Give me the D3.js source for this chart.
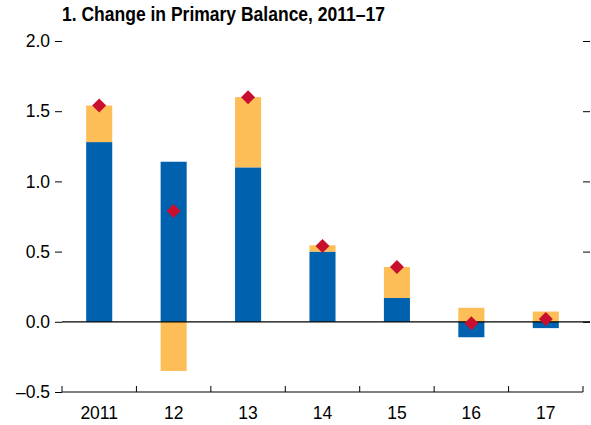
<!DOCTYPE html>
<html>
<head>
<meta charset="utf-8">
<script src="https://cdn.jsdelivr.net/npm/d3@7"></script>
<style>
  html, body { margin: 0; padding: 0; background: #fff; }
  svg { display: block; }
  text { font-family: "Liberation Sans", Arial, sans-serif; }
</style>
</head>
<body>
<svg id="chart" width="591" height="425"></svg>
<script>
const title = "1. Change in Primary Balance, 2011–17";
const categories = ["2011", "12", "13", "14", "15", "16", "17"];
const seriesBlue = [1.28, 1.14, 1.10, 0.50, 0.17, -0.11, -0.045];
const seriesYellow = [0.26, -0.35, 0.50, 0.045, 0.22, 0.10, 0.073];
const totalMarker = [1.54, 0.79, 1.60, 0.54, 0.39, -0.01, 0.02];
const yTicks = [-0.5, 0.0, 0.5, 1.0, 1.5, 2.0];

const colors = { blue: "#0061AE", yellow: "#FDBD57", red: "#C8102E" };

const svg = d3.select("#chart");
const mLeft = 62, mRight = 583, mTop = 41, mBottom = 392;

const x = d3.scaleBand().domain(categories).range([mLeft, mRight]).paddingInner(0.65).paddingOuter(0.325);
const xb = d3.scaleBand().domain(categories).range([mLeft, mRight]);
const y = d3.scaleLinear().domain([-0.5, 2.0]).range([mBottom, mTop]);

// title (condensed bold look)
svg.append("text").attr("x", 62).attr("y", 21)
  .attr("font-size", 19.5).attr("font-weight", "bold").attr("fill", "#000")
  .attr("textLength", 323).attr("lengthAdjust", "spacingAndGlyphs")
  .text(title);

// stacked bars (positive stack / negative stack)
const rows = categories.map((c, i) => {
  const vals = [seriesBlue[i], seriesYellow[i]];
  let pos = 0, neg = 0;
  return vals.map((v, k) => {
    let y0, y1;
    if (v >= 0) { y0 = pos; y1 = pos + v; pos = y1; }
    else { y0 = neg; y1 = neg + v; neg = y1; }
    return { cat: c, k, y0, y1 };
  });
}).flat();

svg.append("g").selectAll("rect").data(rows).join("rect")
  .attr("x", d => x(d.cat))
  .attr("width", x.bandwidth())
  .attr("y", d => y(Math.max(d.y0, d.y1)))
  .attr("height", d => Math.abs(y(d.y0) - y(d.y1)))
  .attr("fill", d => d.k === 0 ? colors.blue : colors.yellow);

// zero line
svg.append("line").attr("x1", mLeft).attr("x2", 590)
  .attr("y1", y(0)).attr("y2", y(0))
  .attr("stroke", "#000").attr("stroke-width", 1.2);

// diamonds
const sym = d3.symbol().type(d3.symbolSquare).size(98);
svg.append("g").selectAll("path").data(totalMarker).join("path")
  .attr("d", sym)
  .attr("transform", (d, i) => `translate(${x(categories[i]) + x.bandwidth() / 2},${y(d)}) rotate(45)`)
  .attr("fill", colors.red);

// left axis (ticks only, no domain)
const yAxisL = d3.axisLeft(y).tickValues(yTicks).tickSize(7).tickPadding(5)
  .tickFormat(d => d < 0 ? "\u2013" + Math.abs(d).toFixed(1) : d.toFixed(1));
const gl = svg.append("g").attr("transform", `translate(${mLeft},0)`).call(yAxisL);
gl.select(".domain").remove();
gl.selectAll("text").attr("font-size", 17.5).attr("fill", "#000")
  .style("font-family", "'Liberation Sans', Arial, sans-serif");
gl.selectAll("line").attr("stroke", "#000");

// right axis ticks
const yAxisR = d3.axisRight(y).tickValues(yTicks.filter(v => v !== -0.5)).tickSize(7).tickFormat("");
const gr = svg.append("g").attr("transform", `translate(${mRight},0)`).call(yAxisR);
gr.select(".domain").remove();
gr.selectAll("line").attr("stroke", "#000");

// bottom axis
const bounds = categories.map(c => xb(c)).concat([mRight]);
svg.append("line").attr("x1", mLeft).attr("x2", mRight).attr("y1", mBottom).attr("y2", mBottom)
  .attr("stroke", "#000").attr("stroke-width", 1.2);
svg.append("g").selectAll("line").data(bounds).join("line")
  .attr("x1", d => d).attr("x2", d => d).attr("y1", mBottom).attr("y2", mBottom - 6)
  .attr("stroke", "#000");
svg.append("g").selectAll("text").data(categories).join("text")
  .attr("x", d => xb(d) + xb.bandwidth() / 2).attr("y", 418.5)
  .attr("text-anchor", "middle").attr("font-size", 17.5).attr("fill", "#000")
  .text(d => d);
</script>
</body>
</html>
